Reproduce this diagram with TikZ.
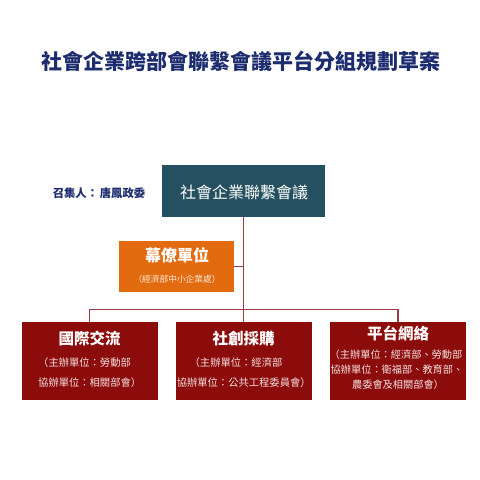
\documentclass[tikz,border=0pt]{standalone}
\usepackage{fontspec}
\newfontfamily\cjk{Noto Sans CJK TC}
\definecolor{navy}{HTML}{1C2C6E}
\definecolor{tealbox}{HTML}{25505F}
\definecolor{orangebox}{HTML}{E26B10}
\definecolor{redbox}{HTML}{8C0C0C}
\definecolor{linecol}{HTML}{9B3B47}
\definecolor{subred}{HTML}{F4DEDE}
\definecolor{suborange}{HTML}{FCE8D8}
\tikzset{
  boxnode/.style={draw=none, inner sep=0pt, outer sep=0pt},
  conn/.style={draw=linecol, line width=1.2pt},
  txt/.style={inner sep=0pt, outer sep=0pt, font=\cjk},
}
\begin{document}
\begin{tikzpicture}[x=1pt,y=-1pt]
\useasboundingbox (0,0) rectangle (480,480);
\fill[white] (0,0) rectangle (480,480);
% title
\node[txt, text=navy, font=\cjk\fontsize{21}{21}\selectfont\bfseries] (title) at (241,61) {社會企業跨部會聯繫會議平台分組規劃草案};
% top box
\node[boxnode, fill=tealbox, minimum width=162.7pt, minimum height=51.7pt] (top) at (243.7,191) {};
\node[txt, text=white, font=\cjk\fontsize{16}{16}\selectfont] (toptxt) at (244,192) {社會企業聯繫會議};
\node[txt, text=navy, font=\cjk\fontsize{11.3}{11.3}\selectfont\bfseries] (conv) at (99,193) {召集人：\,唐鳳政委};
% staff box
\node[boxnode, fill=orangebox, minimum width=115.3pt, minimum height=51.3pt] (staff) at (176.7,266.7) {};
\node[txt, text=white, font=\cjk\fontsize{16}{16}\selectfont\bfseries] (stafft) at (177,255) {幕僚單位};
\node[txt, text=suborange, font=\cjk\fontsize{8.7}{8.7}\selectfont] (staffs) at (177,279) {（經濟部中小企業處）};
% bottom boxes
\node[boxnode, fill=redbox, minimum width=136pt, minimum height=78.3pt] (b1) at (89.7,361) {};
\node[boxnode, fill=redbox, minimum width=136pt, minimum height=78.3pt] (b2) at (243.7,361) {};
\node[boxnode, fill=redbox, minimum width=136pt, minimum height=78.3pt] (b3) at (398,361) {};
\node[txt, text=white, font=\cjk\fontsize{15.5}{15.5}\selectfont\bfseries] (b1t) at (89.7,339) {國際交流};
\node[txt, text=subred, font=\cjk\fontsize{10.3}{10.3}\selectfont] (b1a) at (89.7,363) {（主辦單位：勞動部\hphantom{）}};
\node[txt, text=subred, font=\cjk\fontsize{10.3}{10.3}\selectfont] (b1b) at (89.7,383) {協辦單位：相關部會）};
\node[txt, text=white, font=\cjk\fontsize{15.5}{15.5}\selectfont\bfseries] (b2t) at (243.7,339) {社創採購};
\node[txt, text=subred, font=\cjk\fontsize{10.3}{10.3}\selectfont] (b2a) at (236,363) {（主辦單位：經濟部};
\node[txt, text=subred, font=\cjk\fontsize{10.3}{10.3}\selectfont] (b2b) at (243.7,383) {協辦單位：公共工程委員會）};
\node[txt, text=white, font=\cjk\fontsize{15.5}{15.5}\selectfont\bfseries] (b3t) at (398,333) {平台網絡};
\node[txt, text=subred, font=\cjk\fontsize{10.2}{10.2}\selectfont] (b3a) at (396,355) {（主辦單位：經濟部、勞動部};
\node[txt, text=subred, font=\cjk\fontsize{10.2}{10.2}\selectfont] (b3b) at (397,370) {協辦單位：衛福部、教育部、};
\node[txt, text=subred, font=\cjk\fontsize{10.2}{10.2}\selectfont] (b3c) at (398,385) {農委會及相關部會）};
% connectors
\coordinate (bus) at (243.7,309.3);
\draw[conn] (top.south) -- (b2.north);
\draw[conn] (b1.north) |- (bus) -| (b3.north);
\draw[conn] (staff.east) -- (staff.east -| top.south);
\end{tikzpicture}
\end{document}
